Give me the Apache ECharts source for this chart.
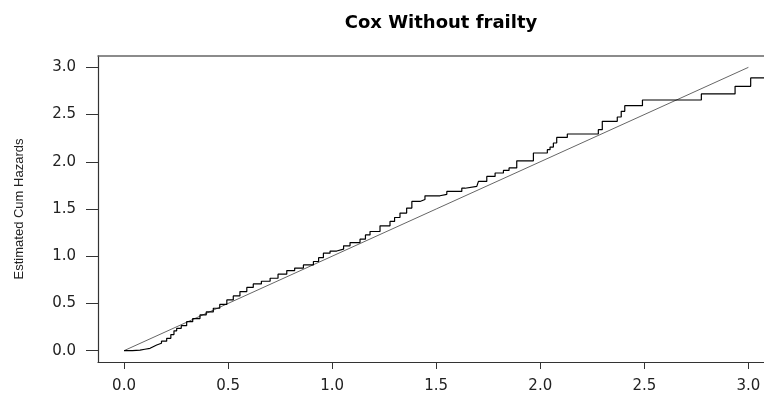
<!DOCTYPE html>
<html>
<head>
<meta charset="utf-8">
<script src="https://cdn.jsdelivr.net/npm/echarts@6/dist/echarts.min.js"></script>
<style>
  html, body { margin: 0; padding: 0; background: #fff; }
  #chart { width: 764px; height: 395px; }
</style>
</head>
<body>
<div id="chart"></div>
<script>
// estimated cumulative hazard (step function)
var hazTime = [0.000, 0.013, 0.040, 0.077, 0.100, 0.125, 0.140, 0.157, 0.180, 0.205,
               0.225, 0.240, 0.253, 0.275, 0.301, 0.330, 0.365, 0.395, 0.429, 0.460,
               0.494, 0.525, 0.557, 0.590, 0.621, 0.660, 0.702, 0.740, 0.782, 0.820,
               0.862, 0.910, 0.935, 0.958, 0.990, 1.022, 1.055, 1.086, 1.134, 1.160,
               1.182, 1.230, 1.278, 1.300, 1.326, 1.358, 1.383, 1.422, 1.446, 1.518,
               1.551, 1.623, 1.639, 1.695, 1.703, 1.743, 1.783, 1.823, 1.850, 1.887,
               1.967, 2.034, 2.047, 2.063, 2.079, 2.130, 2.279, 2.298, 2.370, 2.389,
               2.406, 2.491, 2.774, 2.936, 3.011, 3.200];
var hazValue = [0.000, 0.000, 0.005, 0.015, 0.025, 0.042, 0.060, 0.078, 0.100, 0.131,
                0.170, 0.210, 0.237, 0.265, 0.307, 0.340, 0.378, 0.410, 0.449, 0.490,
                0.537, 0.580, 0.626, 0.670, 0.707, 0.735, 0.767, 0.810, 0.848, 0.875,
                0.908, 0.944, 0.985, 1.032, 1.055, 1.075, 1.110, 1.145, 1.181, 1.225,
                1.262, 1.322, 1.368, 1.410, 1.457, 1.510, 1.580, 1.600, 1.640, 1.655,
                1.686, 1.720, 1.739, 1.757, 1.792, 1.845, 1.881, 1.908, 1.935, 2.010,
                2.093, 2.128, 2.156, 2.199, 2.258, 2.294, 2.340, 2.428, 2.474, 2.534,
                2.594, 2.654, 2.718, 2.799, 2.888, 2.888];
// reference line y = x
var refTime = [0, 3];
var refValue = [0, 3];
var tickValues = [0, 0.5, 1, 1.5, 2, 2.5, 3];

var stepData = hazTime.map(function (t, i) { return [t, hazValue[i]]; });
var refData = refTime.map(function (t, i) { return [t, refValue[i]]; });

var chart = echarts.init(document.getElementById('chart'));
var axisColor = '#333';
var option = {
  animation: false,
  title: {
    text: 'Cox Without frailty',
    left: 436,
    top: 9,
    textAlign: 'center',
    textStyle: { fontFamily: 'DejaVu Sans', fontSize: 18, fontWeight: 'bold', color: '#000' }
  },
  grid: { left: 98, right: 0, top: 56, bottom: 33 },
  xAxis: [{
    type: 'value',
    position: 'bottom',
    min: -0.125,
    max: 3.075,
    axisLine: { show: true, onZero: false, lineStyle: { color: axisColor, width: 1.2 } },
    axisTick: { show: true, length: 7, customValues: tickValues, lineStyle: { color: axisColor } },
    axisLabel: {
      customValues: tickValues, margin: 17, color: '#222',
      fontFamily: 'DejaVu Sans', fontSize: 15,
      formatter: function (v) { return v.toFixed(1); }
    },
    splitLine: { show: false }
  }, {
    type: 'value',
    position: 'top',
    min: -0.125,
    max: 3.075,
    axisLine: { show: true, onZero: false, lineStyle: { color: '#666', width: 1.5 } },
    axisTick: { show: false },
    axisLabel: { show: false },
    splitLine: { show: false }
  }],
  yAxis: {
    type: 'value',
    min: -0.12,
    max: 3.12,
    name: 'Estimated Cum Hazards',
    nameLocation: 'middle',
    nameRotate: 90,
    nameGap: 72,
    nameTextStyle: { fontFamily: 'Liberation Sans', fontSize: 13, color: '#222' },
    axisLine: { show: true, onZero: false, lineStyle: { color: axisColor, width: 1.2 } },
    axisTick: { show: true, length: 12, customValues: tickValues, lineStyle: { color: axisColor } },
    axisLabel: {
      customValues: tickValues, margin: 22, color: '#222',
      fontFamily: 'DejaVu Sans', fontSize: 15,
      formatter: function (v) { return v.toFixed(1); }
    },
    splitLine: { show: false }
  },
  series: [{
    type: 'line',
    data: refData,
    symbol: 'none',
    lineStyle: { color: '#666', width: 1 },
    z: 2
  }, {
    type: 'line',
    data: stepData,
    step: 'end',
    symbol: 'none',
    lineStyle: { color: '#000', width: 1.2 },
    z: 3
  }]
};
chart.setOption(option);
</script>
</body>
</html>
